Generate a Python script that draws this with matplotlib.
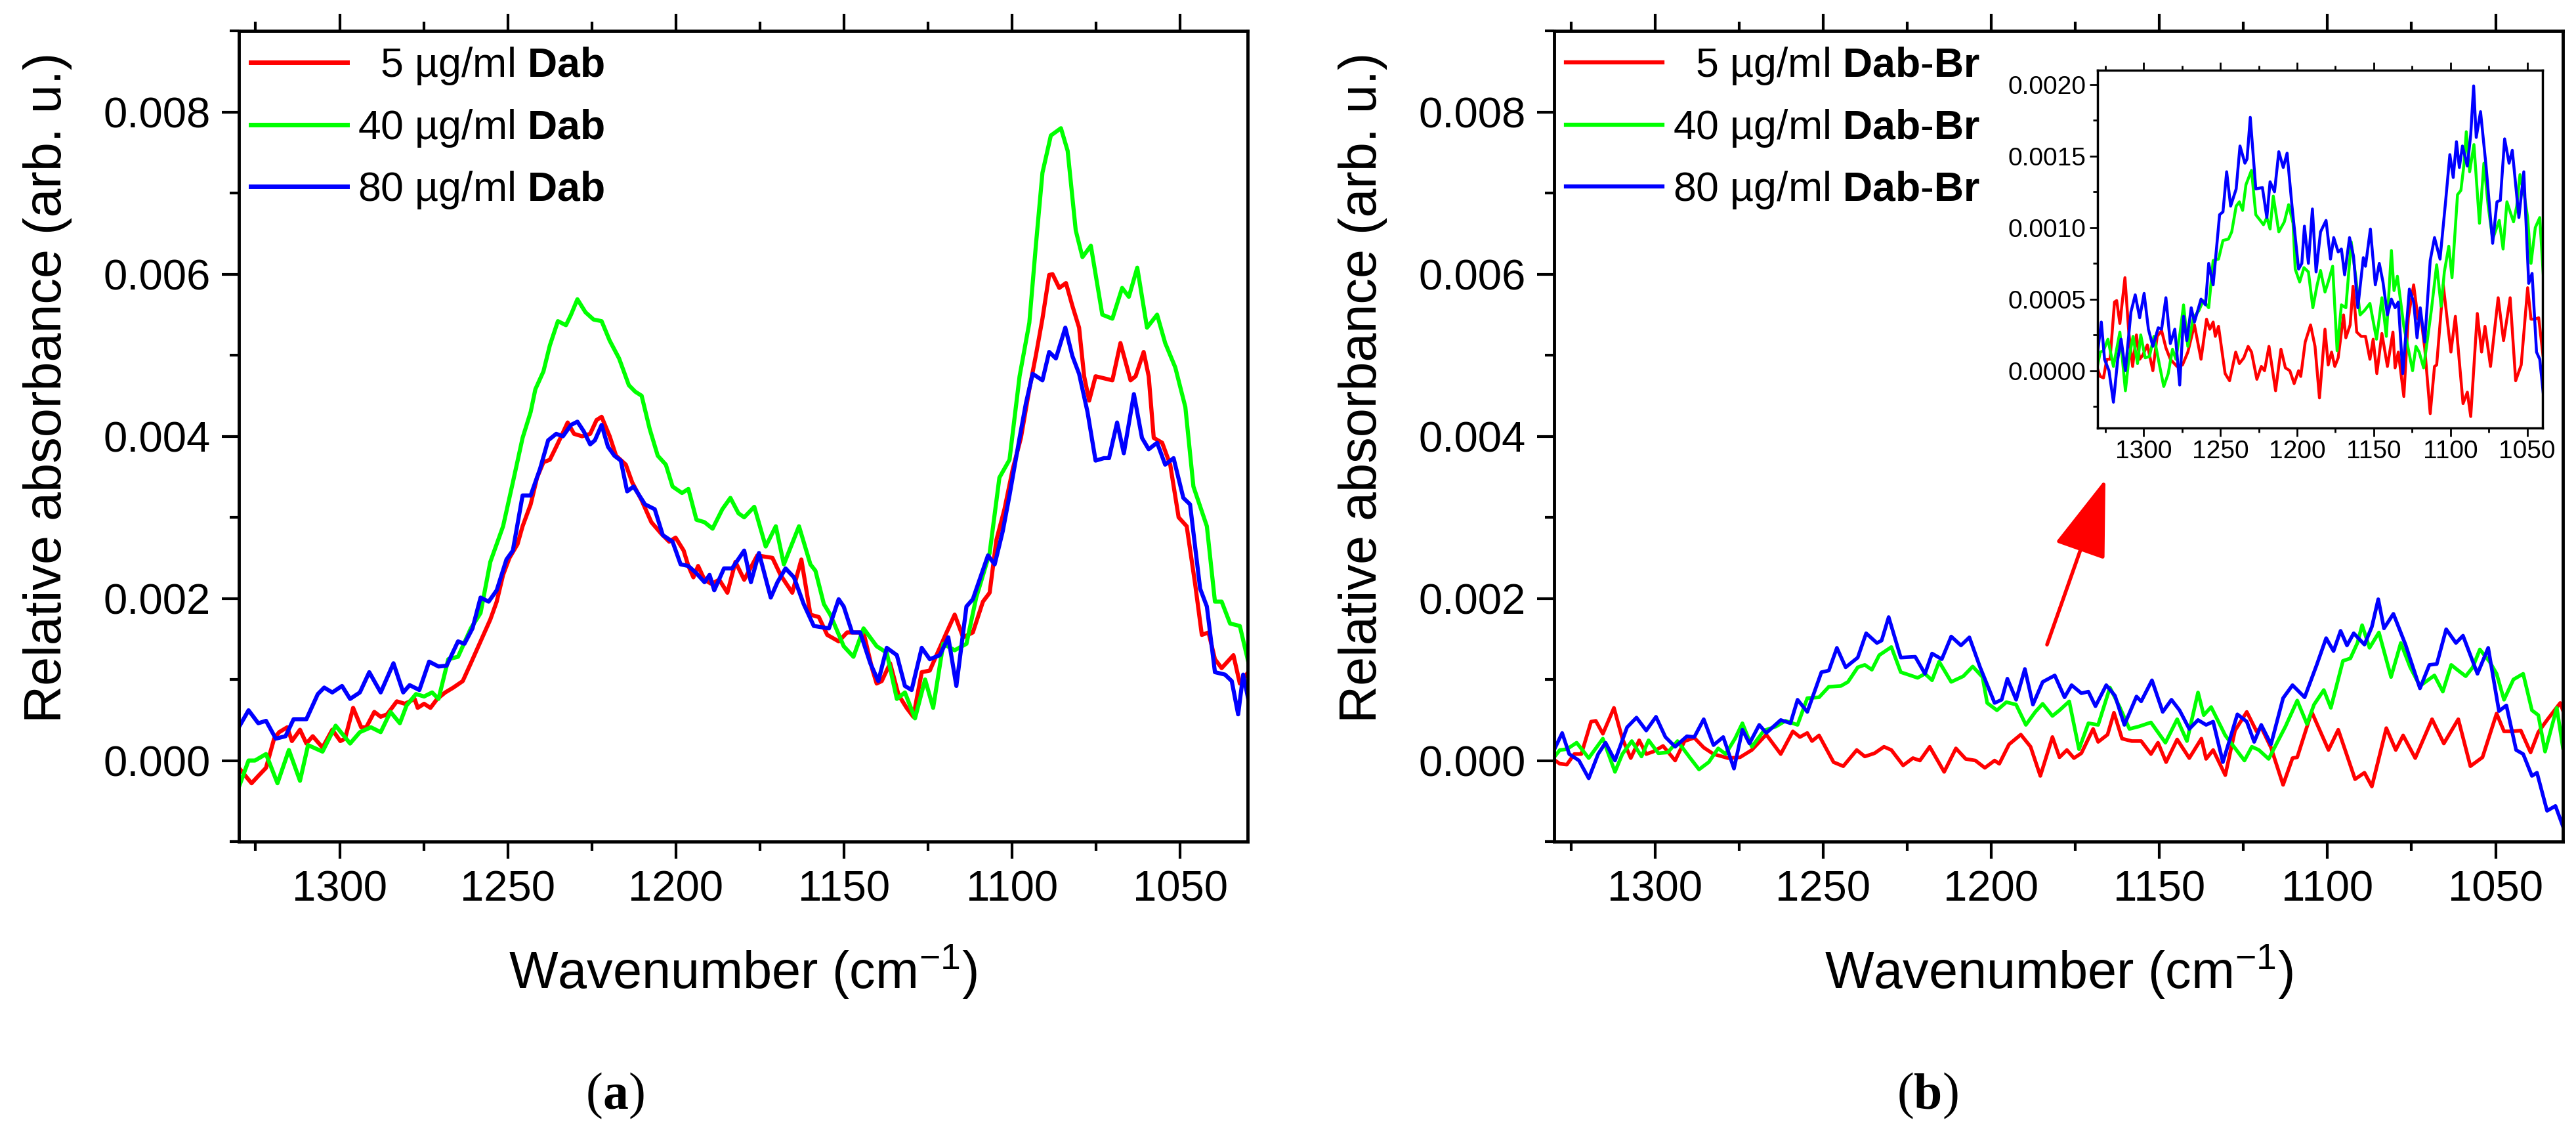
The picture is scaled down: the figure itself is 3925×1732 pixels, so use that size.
import numpy as np
import matplotlib
matplotlib.use("Agg")
import matplotlib.pyplot as plt
from matplotlib.ticker import MultipleLocator, FormatStrFormatter

plt.rcParams['font.family'] = ['Liberation Sans', 'DejaVu Sans']
plt.rcParams['mathtext.fontset'] = 'custom'
plt.rcParams['mathtext.rm'] = 'Liberation Sans'
plt.rcParams['mathtext.it'] = 'Liberation Sans:italic'
plt.rcParams['mathtext.bf'] = 'Liberation Sans:bold'

# values, absorbance in units of 1e-3
# ---- panel (a): Dab ----
a_red_x = [1330.0, 1326.2, 1324.2, 1321.9, 1319.5, 1318.0, 1315.6, 1314.2, 1311.8, 1309.9, 1308.0, 1305.1,
           1302.2, 1299.8, 1298.4, 1296.0, 1293.6, 1292.1, 1289.7, 1287.8, 1285.9, 1283.0, 1280.6, 1277.7,
           1276.8, 1274.9, 1273.0, 1271.0, 1268.6, 1266.2, 1263.4, 1261.0, 1258.1, 1255.2, 1253.3, 1251.4,
           1249.5, 1247.1, 1245.6, 1243.2, 1241.3, 1239.4, 1237.5, 1235.6, 1234.1, 1232.2, 1230.3, 1227.9,
           1225.5, 1223.6, 1222.1, 1219.7, 1217.8, 1214.9, 1213.0, 1210.2, 1207.3, 1204.4, 1202.0, 1200.1,
           1197.7, 1196.3, 1194.8, 1193.4, 1191.5, 1189.5, 1187.1, 1184.7, 1182.3, 1179.7, 1175.8, 1171.3,
           1168.9, 1165.4, 1162.7, 1160.0, 1157.5, 1155.0, 1151.6, 1149.1, 1144.2, 1141.7, 1140.3, 1138.8,
           1136.3, 1133.8, 1131.4, 1129.4, 1126.9, 1124.5, 1122.5, 1119.5, 1117.1, 1114.6, 1111.7, 1108.7,
           1106.7, 1104.7, 1102.3, 1099.8, 1097.4, 1094.9, 1092.9, 1091.0, 1089.0, 1088.0, 1086.0, 1084.0,
           1082.1, 1080.1, 1078.6, 1077.1, 1075.2, 1072.2, 1070.2, 1067.8, 1064.8, 1063.3, 1060.9, 1059.4,
           1057.9, 1055.4, 1053.0, 1050.5, 1048.1, 1045.6, 1043.6, 1041.6, 1039.7, 1037.7, 1034.2, 1032.3,
           1029.8]
a_red_y = [-0.09, -0.28, -0.19, -0.09, 0.27, 0.35, 0.41, 0.24, 0.38, 0.21, 0.30, 0.16,
           0.38, 0.24, 0.27, 0.65, 0.41, 0.41, 0.60, 0.54, 0.57, 0.73, 0.70, 0.76,
           0.65, 0.70, 0.65, 0.76, 0.84, 0.90, 0.98, 1.20, 1.47, 1.74, 1.96, 2.29,
           2.50, 2.67, 2.89, 3.16, 3.49, 3.68, 3.71, 3.87, 4.00, 4.17, 4.03, 4.00,
           4.03, 4.20, 4.24, 4.00, 3.76, 3.65, 3.43, 3.21, 2.94, 2.80, 2.70, 2.75,
           2.59, 2.40, 2.26, 2.40, 2.23, 2.18, 2.23, 2.07, 2.45, 2.23, 2.53, 2.50,
           2.29, 2.07, 2.48, 1.80, 1.77, 1.55, 1.47, 1.58, 1.58, 1.14, 0.95, 0.98,
           1.20, 0.81, 0.65, 0.54, 1.09, 1.11, 1.30, 1.58, 1.80, 1.52, 1.58, 1.96,
           2.07, 2.72, 3.10, 3.60, 3.98, 4.58, 5.01, 5.45, 5.99, 6.00, 5.83, 5.89,
           5.61, 5.34, 4.74, 4.44, 4.74, 4.71, 4.69, 5.15, 4.69, 4.74, 5.04, 4.74,
           3.98, 3.92, 3.65, 3.00, 2.89, 2.18, 1.55, 1.58, 1.25, 1.14, 1.30, 0.95,
           1.09]

a_green_x = [1330.0, 1327.1, 1325.2, 1321.9, 1318.5, 1315.1, 1311.8, 1309.4, 1305.1, 1301.2, 1296.9, 1294.0,
             1290.7, 1287.8, 1284.9, 1282.1, 1280.1, 1277.3, 1274.9, 1272.5, 1270.6, 1267.7, 1264.8, 1261.0,
             1258.1, 1255.2, 1253.3, 1251.4, 1248.5, 1245.6, 1243.2, 1241.8, 1239.4, 1237.5, 1235.1, 1232.7,
             1231.2, 1229.3, 1226.9, 1224.5, 1222.1, 1219.7, 1216.9, 1214.0, 1212.1, 1210.2, 1207.8, 1205.4,
             1203.0, 1201.0, 1198.2, 1196.3, 1193.9, 1191.5, 1189.1, 1186.2, 1183.8, 1181.4, 1179.7, 1176.7,
             1173.3, 1170.3, 1167.9, 1163.4, 1160.0, 1158.5, 1156.0, 1154.1, 1150.1, 1147.2, 1144.2, 1140.3,
             1137.3, 1134.3, 1131.9, 1128.9, 1125.9, 1123.5, 1120.5, 1117.1, 1113.6, 1110.7, 1106.7, 1103.8,
             1100.8, 1097.8, 1094.9, 1092.9, 1091.0, 1088.5, 1085.5, 1083.5, 1081.1, 1079.1, 1076.6, 1073.2,
             1070.2, 1067.3, 1065.3, 1062.8, 1059.9, 1056.9, 1054.5, 1051.5, 1048.5, 1046.1, 1042.1, 1039.7,
             1037.7, 1035.2, 1032.3, 1029.8]
a_green_y = [-0.33, 0.00, 0.00, 0.08, -0.28, 0.13, -0.25, 0.19, 0.11, 0.43, 0.21, 0.35,
             0.41, 0.35, 0.60, 0.46, 0.68, 0.82, 0.79, 0.84, 0.76, 1.25, 1.28, 1.63,
             1.82, 2.45, 2.67, 2.89, 3.43, 3.98, 4.30, 4.58, 4.80, 5.12, 5.42, 5.37,
             5.50, 5.69, 5.53, 5.44, 5.42, 5.18, 4.96, 4.63, 4.55, 4.50, 4.09, 3.76,
             3.65, 3.38, 3.30, 3.35, 2.97, 2.94, 2.86, 3.10, 3.24, 3.05, 3.00, 3.13,
             2.64, 2.89, 2.42, 2.89, 2.42, 2.34, 1.93, 1.80, 1.41, 1.28, 1.63, 1.41,
             1.33, 0.76, 0.84, 0.52, 1.00, 0.65, 1.44, 1.36, 1.44, 2.01, 2.56, 3.49,
             3.71, 4.74, 5.40, 6.38, 7.25, 7.71, 7.80, 7.52, 6.54, 6.21, 6.35, 5.50,
             5.45, 5.83, 5.72, 6.08, 5.34, 5.50, 5.15, 4.85, 4.36, 3.38, 2.89, 1.96,
             1.96, 1.69, 1.66, 1.22]

a_blue_x = [1330.0, 1327.1, 1324.2, 1321.9, 1319.0, 1316.1, 1313.7, 1309.9, 1306.5, 1304.6, 1302.2, 1299.3,
            1296.9, 1294.0, 1291.2, 1287.8, 1284.0, 1281.1, 1279.2, 1276.3, 1273.4, 1270.6, 1268.2, 1264.8,
            1262.9, 1260.5, 1258.1, 1255.7, 1253.3, 1250.4, 1248.5, 1245.6, 1243.2, 1240.4, 1238.0, 1235.6,
            1233.6, 1231.2, 1229.3, 1227.4, 1225.5, 1224.1, 1222.1, 1220.2, 1218.3, 1216.4, 1214.5, 1212.6,
            1209.2, 1206.3, 1203.9, 1201.0, 1198.6, 1196.3, 1193.9, 1191.5, 1190.0, 1188.6, 1185.7, 1183.3,
            1179.7, 1177.7, 1175.3, 1171.8, 1169.8, 1167.4, 1164.9, 1162.0, 1159.0, 1154.5, 1151.6, 1150.1,
            1147.6, 1145.2, 1142.2, 1139.8, 1137.3, 1134.3, 1131.9, 1129.9, 1126.9, 1124.5, 1121.5, 1119.0,
            1116.6, 1113.6, 1111.7, 1109.2, 1107.2, 1105.2, 1102.8, 1100.8, 1097.8, 1095.9, 1093.9, 1091.0,
            1089.0, 1087.0, 1084.2, 1082.1, 1080.1, 1077.6, 1075.2, 1072.7, 1071.2, 1068.8, 1066.8, 1063.8,
            1061.4, 1059.4, 1056.9, 1054.5, 1052.0, 1049.1, 1047.1, 1044.1, 1042.1, 1039.7, 1036.7, 1034.7,
            1032.8, 1031.3, 1029.8]
a_blue_y = [0.41, 0.62, 0.46, 0.49, 0.27, 0.30, 0.51, 0.51, 0.82, 0.90, 0.84, 0.92,
            0.76, 0.84, 1.09, 0.84, 1.20, 0.84, 0.93, 0.87, 1.22, 1.16, 1.17, 1.47,
            1.44, 1.63, 2.01, 1.96, 2.10, 2.48, 2.59, 3.27, 3.27, 3.60, 3.95, 4.03,
            4.00, 4.14, 4.18, 4.06, 3.90, 3.95, 4.14, 3.87, 3.76, 3.70, 3.32, 3.38,
            3.16, 3.10, 2.78, 2.70, 2.42, 2.40, 2.31, 2.20, 2.29, 2.10, 2.37, 2.37,
            2.59, 2.20, 2.56, 2.01, 2.20, 2.37, 2.26, 1.93, 1.66, 1.63, 1.99, 1.90,
            1.58, 1.58, 1.20, 0.98, 1.39, 1.30, 0.92, 0.87, 1.39, 1.25, 1.30, 1.52,
            0.92, 1.90, 1.99, 2.29, 2.53, 2.42, 2.83, 3.27, 3.98, 4.41, 4.77, 4.69,
            5.04, 4.96, 5.34, 4.99, 4.77, 4.30, 3.70, 3.73, 3.73, 4.17, 3.79, 4.52,
            3.98, 3.84, 3.92, 3.65, 3.73, 3.24, 3.16, 2.12, 1.90, 1.09, 1.06, 0.98,
            0.57, 1.06, 0.76]

# ---- panel (b): Dab-Br ----
b_red_x = [1330.0, 1328.3, 1326.2, 1324.0, 1321.9, 1319.0, 1317.6, 1315.5, 1312.2, 1309.7, 1307.2, 1304.7,
           1302.6, 1300.5, 1297.6, 1294.0, 1291.2, 1288.3, 1285.5, 1282.6, 1278.3, 1274.7, 1271.2, 1266.9,
           1262.6, 1259.0, 1256.9, 1254.7, 1253.3, 1251.2, 1246.9, 1244.0, 1240.0, 1237.6, 1234.7, 1231.9,
           1229.7, 1226.2, 1223.3, 1221.2, 1218.3, 1214.0, 1210.5, 1207.6, 1204.7, 1201.9, 1199.0, 1197.6,
           1194.7, 1191.2, 1188.3, 1185.4, 1181.8, 1179.7, 1177.5, 1175.4, 1173.2, 1169.7, 1168.2, 1165.4,
           1163.5, 1161.1, 1158.2, 1155.4, 1152.5, 1150.4, 1148.0, 1144.7, 1141.1, 1137.5, 1136.1, 1134.0,
           1130.4, 1127.5, 1124.0, 1121.1, 1119.7, 1116.8, 1113.2, 1110.4, 1109.0, 1104.7, 1099.7, 1096.8,
           1091.8, 1089.0, 1086.8, 1082.5, 1079.7, 1077.5, 1073.9, 1068.9, 1065.4, 1061.1, 1057.5, 1053.9,
           1049.7, 1047.5, 1045.0, 1042.5, 1039.6, 1037.3, 1034.7, 1030.8, 1030.0]
b_red_y = [0.01, -0.04, -0.05, 0.08, 0.08, 0.48, 0.49, 0.33, 0.65, 0.27, 0.03, 0.25,
           0.08, 0.11, 0.18, 0.00, 0.24, 0.28, 0.16, 0.08, 0.03, 0.04, 0.13, 0.32,
           0.08, 0.36, 0.29, 0.34, 0.24, 0.31, -0.02, -0.07, 0.13, 0.05, 0.09, 0.17,
           0.13, -0.06, 0.03, 0.00, 0.17, -0.14, 0.15, 0.02, 0.00, -0.09, 0.00, -0.04,
           0.20, 0.32, 0.17, -0.19, 0.29, 0.04, 0.13, 0.03, 0.09, 0.39, 0.23, 0.32,
           0.59, 0.27, 0.24, 0.24, 0.08, 0.22, -0.02, 0.26, 0.03, 0.27, 0.02, 0.13,
           -0.18, 0.37, 0.60, 0.36, 0.41, 0.16, -0.30, 0.03, 0.04, 0.60, 0.13, 0.38,
           -0.23, -0.15, -0.32, 0.40, 0.13, 0.31, 0.03, 0.51, 0.21, 0.51, -0.07, 0.04,
           0.58, 0.36, 0.36, 0.37, 0.10, 0.35, 0.50, 0.71, 0.62]

b_green_x = [1330.0, 1328.3, 1326.2, 1323.3, 1319.7, 1315.5, 1311.9, 1309.7, 1306.9, 1304.0, 1301.9, 1299.0,
             1296.2, 1293.3, 1289.7, 1286.9, 1284.0, 1281.2, 1279.0, 1276.2, 1274.0, 1271.2, 1267.6, 1264.0,
             1261.2, 1257.6, 1254.7, 1251.2, 1248.3, 1244.7, 1242.6, 1239.7, 1237.6, 1235.5, 1233.3, 1229.7,
             1226.9, 1224.0, 1221.9, 1219.7, 1217.6, 1215.5, 1211.9, 1208.3, 1205.5, 1202.6, 1201.2, 1198.3,
             1195.5, 1192.6, 1189.7, 1186.9, 1184.7, 1181.8, 1179.7, 1176.8, 1173.9, 1171.1, 1168.2, 1164.7,
             1161.8, 1158.9, 1156.1, 1152.5, 1148.2, 1144.7, 1141.8, 1138.5, 1136.8, 1134.6, 1130.4, 1124.7,
             1122.5, 1120.4, 1117.5, 1112.5, 1109.0, 1106.1, 1104.0, 1101.1, 1099.0, 1095.4, 1093.2, 1091.1,
             1089.7, 1087.5, 1084.7, 1081.1, 1078.2, 1075.4, 1072.5, 1068.2, 1065.7, 1063.2, 1061.1, 1058.9,
             1056.8, 1054.7, 1051.8, 1049.7, 1047.5, 1044.7, 1041.8, 1039.2, 1037.3, 1035.3, 1031.8, 1030.0]
b_green_y = [0.04, 0.13, 0.14, 0.22, 0.03, 0.27, -0.14, 0.08, 0.24, 0.05, 0.25, 0.09,
             0.10, 0.24, 0.04, -0.11, -0.02, 0.15, 0.08, 0.27, 0.46, 0.17, 0.37, 0.42,
             0.49, 0.44, 0.77, 0.78, 0.91, 0.92, 0.97, 1.15, 1.18, 1.12, 1.30, 1.40,
             1.09, 1.05, 1.02, 1.07, 0.99, 1.22, 0.97, 1.04, 1.16, 1.03, 0.71, 0.62,
             0.72, 0.69, 0.44, 0.60, 0.70, 0.55, 0.62, 0.73, 0.14, 0.46, 0.44, 0.90,
             0.66, 0.39, 0.42, 0.47, 0.22, 0.51, 0.24, 0.84, 0.56, 0.66, 0.31, 0.00,
             0.17, 0.13, 0.02, 0.42, 0.74, 0.45, 0.69, 0.87, 0.65, 1.23, 1.26, 1.45,
             1.67, 1.39, 1.58, 1.03, 1.45, 1.15, 0.92, 1.05, 0.85, 1.18, 1.11, 1.04,
             1.15, 1.37, 1.22, 1.07, 0.75, 1.00, 1.07, 0.62, 0.56, 0.11, 0.65, 0.16]

b_blue_x = [1330.0, 1327.6, 1325.5, 1322.6, 1319.7, 1316.9, 1314.7, 1311.9, 1308.3, 1305.5, 1302.6, 1299.7,
            1296.9, 1294.0, 1290.5, 1288.3, 1285.5, 1282.6, 1279.7, 1276.5, 1274.0, 1271.9, 1269.0, 1266.9,
            1262.6, 1259.7, 1257.6, 1254.7, 1250.5, 1248.3, 1245.9, 1243.3, 1239.7, 1237.2, 1234.0, 1232.6,
            1230.5, 1226.9, 1222.6, 1219.7, 1217.6, 1214.7, 1211.9, 1209.0, 1206.5, 1203.3, 1199.0, 1196.9,
            1195.2, 1192.6, 1190.0, 1187.6, 1184.7, 1181.1, 1178.2, 1176.1, 1173.2, 1171.1, 1169.0, 1165.8,
            1163.2, 1160.4, 1156.8, 1155.4, 1152.2, 1149.0, 1146.4, 1144.0, 1141.1, 1138.5, 1136.1, 1134.0,
            1131.1, 1126.8, 1124.0, 1121.8, 1119.7, 1116.8, 1113.2, 1110.4, 1106.8, 1103.2, 1100.4, 1098.2,
            1096.1, 1094.2, 1092.2, 1089.0, 1086.8, 1084.9, 1083.2, 1080.4, 1076.8, 1072.5, 1069.7, 1067.5,
            1064.7, 1061.8, 1059.7, 1055.4, 1052.2, 1049.0, 1046.8, 1043.9, 1041.8, 1039.2, 1037.7, 1034.7,
            1032.2, 1030.0]
b_blue_y = [0.13, 0.34, 0.08, 0.00, -0.22, 0.08, 0.22, 0.00, 0.41, 0.53, 0.37, 0.54,
            0.29, 0.17, 0.30, 0.29, 0.51, 0.19, 0.29, -0.10, 0.38, 0.21, 0.44, 0.34,
            0.50, 0.46, 0.75, 0.60, 1.09, 1.11, 1.39, 1.15, 1.27, 1.57, 1.45, 1.48,
            1.77, 1.27, 1.28, 1.07, 1.32, 1.25, 1.53, 1.42, 1.52, 1.15, 0.71, 0.75,
            1.01, 0.75, 1.13, 0.69, 0.97, 1.05, 0.78, 0.93, 0.83, 0.85, 0.67, 0.93,
            0.80, 0.44, 0.79, 0.73, 0.99, 0.60, 0.75, 0.62, 0.39, 0.50, 0.44, 0.48,
            -0.02, 0.57, 0.48, 0.23, 0.44, 0.20, 0.77, 0.93, 0.78, 1.18, 1.51, 1.35,
            1.60, 1.42, 1.57, 1.43, 1.65, 1.99, 1.63, 1.81, 1.43, 0.89, 1.18, 1.19,
            1.62, 1.45, 1.54, 1.07, 1.39, 0.61, 0.68, 0.13, 0.08, -0.19, -0.15, -0.62,
            -0.56, -0.81]

labels_a = [r"  5 µg/ml $\mathbf{Dab}$", r"40 µg/ml $\mathbf{Dab}$", r"80 µg/ml $\mathbf{Dab}$"]
labels_b = [r"  5 µg/ml $\mathbf{Dab}$-$\mathbf{Br}$", r"40 µg/ml $\mathbf{Dab}$-$\mathbf{Br}$",
            r"80 µg/ml $\mathbf{Dab}$-$\mathbf{Br}$"]
colors = ['#ff0000', '#00ff00', '#0000ff']

series_a = [(a_red_x, a_red_y), (a_green_x, a_green_y), (a_blue_x, a_blue_y)]
series_b = [(b_red_x, b_red_y), (b_green_x, b_green_y), (b_blue_x, b_blue_y)]


def style_axis(ax, spine_w, tick_size, major_len, minor_len, tick_w, pad):
    for s in ax.spines.values():
        s.set_linewidth(spine_w)
    ax.tick_params(which='both', direction='out', top=True, right=False, width=tick_w,
                   labelsize=tick_size, pad=pad)
    ax.tick_params(which='major', length=major_len)
    ax.tick_params(which='minor', length=minor_len)


fig = plt.figure(figsize=(39.25, 17.32), dpi=100)
ax_a = fig.add_axes([0.0927, 0.2598, 0.3916, 0.7130])
ax_b = fig.add_axes([0.6033, 0.2598, 0.3916, 0.7130])

for ax, series, labels, lw in [(ax_a, series_a, labels_a, 4.5), (ax_b, series_b, labels_b, 4.0)]:
    for (x, y), c, lab in zip(series, colors, labels):
        ax.plot(x, np.array(y) * 1e-3, color=c, lw=lw, label=lab)
    ax.set_xlim(1330, 1030)
    ax.set_ylim(-0.001, 0.009)
    ax.xaxis.set_major_locator(MultipleLocator(50))
    ax.xaxis.set_minor_locator(MultipleLocator(25))
    ax.yaxis.set_major_locator(MultipleLocator(0.002))
    ax.yaxis.set_minor_locator(MultipleLocator(0.001))
    ax.yaxis.set_major_formatter(FormatStrFormatter('%.3f'))
    style_axis(ax, 3.5, 47, 19, 10, 3, 12)
    ax.set_xlabel(r"Wavenumber (cm$^{-1}$)", fontsize=57)
    ax.xaxis.set_label_coords(0.5, -0.125)
    ax.set_ylabel("Relative absorbance (arb. u.)", fontsize=57)
    ax.yaxis.set_label_coords(-0.165, 0.56)
    leg = ax.legend(loc='upper left', bbox_to_anchor=(0.012, 0.982), frameon=False,
                    fontsize=45, handlelength=2.35, handletextpad=0.25, labelspacing=0.5,
                    borderpad=0, borderaxespad=0)
    for h in leg.get_lines():
        h.set_linewidth(lw + 0.5)

# inset in panel (b)
ax_in = fig.add_axes([0.8143, 0.6236, 0.1727, 0.3147])
for (x, y), c in zip(series_b, colors):
    ax_in.plot(x, np.array(y) * 1e-3, color=c, lw=3.2)
ax_in.set_xlim(1330, 1040)
ax_in.set_ylim(-0.0004, 0.0021)
ax_in.xaxis.set_major_locator(MultipleLocator(50))
ax_in.xaxis.set_minor_locator(MultipleLocator(25))
ax_in.yaxis.set_major_locator(MultipleLocator(0.0005))
ax_in.yaxis.set_minor_locator(MultipleLocator(0.00025))
ax_in.yaxis.set_major_formatter(FormatStrFormatter('%.4f'))
style_axis(ax_in, 2.5, 28, 9, 5, 2, 4)

# red arrow pointing to the inset
fig.add_artist(matplotlib.patches.FancyArrowPatch(
    (3119 / 3925, 1 - 982 / 1732), (3208 / 3925, 1 - 730 / 1732),
    transform=fig.transFigure, arrowstyle='-|>,head_length=1.0,head_width=0.34',
    mutation_scale=75, color='#ff0000', lw=4, shrinkA=0, shrinkB=0))

# panel letters: (a), (b) with a bold letter
for xc, letter in [(0.243, 'a'), (0.752, 'b')]:
    t1 = fig.text(xc - 0.009, 1 - 1670 / 1732, "(", fontsize=56, family='Liberation Serif',
                  ha='right', va='center')
    t2 = fig.add_artist(matplotlib.text.Annotation(
        letter, xy=(1, 0), xycoords=t1, va='bottom', ha='left', fontsize=56,
        family='Liberation Serif', weight='bold', annotation_clip=False))
    fig.add_artist(matplotlib.text.Annotation(
        ")", xy=(1, 0), xycoords=t2, va='bottom', ha='left', fontsize=56,
        family='Liberation Serif', annotation_clip=False))

fig.savefig("out.png", dpi=100)
